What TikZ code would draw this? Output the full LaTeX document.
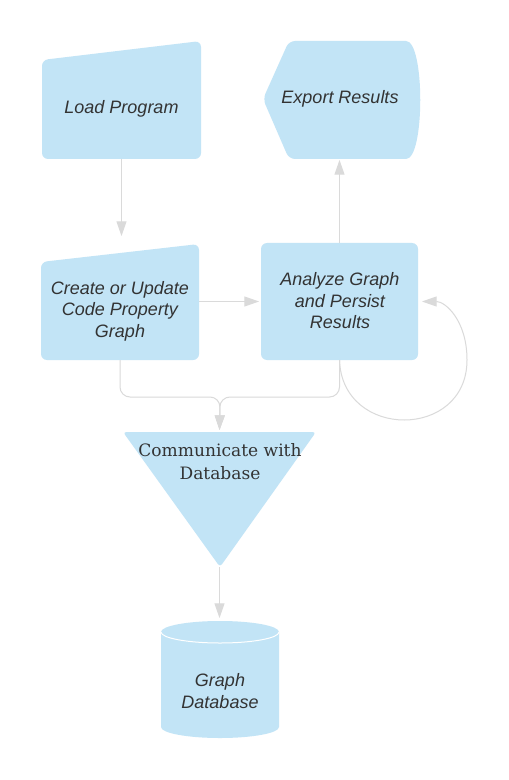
\documentclass[tikz,border=0pt]{standalone}
\usepackage{fontspec}
\setmainfont{Liberation Sans}
\newfontfamily\slabfont{DejaVu Serif}
\usetikzlibrary{arrows.meta}
\definecolor{boxblue}{RGB}{194,228,246}
\definecolor{txtgray}{RGB}{51,51,51}
\definecolor{linegray}{RGB}{218,218,218}
\tikzset{
  shapefill/.style={fill=boxblue, draw=none, rounded corners=4.5pt},
  anchorbox/.style={draw=none, fill=none, inner sep=0pt, outer sep=0pt, rectangle},
  lbl/.style={font=\itshape\fontsize{13.5}{16.1}\selectfont, text=txtgray, align=center, inner sep=0pt},
  slablbl/.style={font=\slabfont\fontsize{12.8}{17.25}\selectfont, text=txtgray, align=center, inner sep=0pt},
  conn/.style={draw=linegray, line width=0.75pt, -{Triangle[length=11pt,width=7.5pt,fill=linegray]}},
  loopconn/.style={draw=linegray, line width=0.75pt, -{Triangle[length=11pt,width=7.5pt,fill=linegray]}},
}
\begin{document}
\begin{tikzpicture}[x=0.75pt,y=-0.75pt]
\useasboundingbox[fill=white] (0,0) rectangle (508,780);

% ---- shape fills ----
\fill[shapefill] (42,60) -- (201,41) -- (201,159) -- (42,159) -- cycle;
\fill[shapefill] (263,99) -- (289,41) -- (400,41) .. controls (425,41) and (425,159) .. (400,159) -- (289,159) -- cycle;
\fill[shapefill] (41,262) -- (199,244) -- (199,360) -- (41,360) -- cycle;
\fill[shapefill] (261,243) -- (418,243) -- (418,360) -- (261,360) -- cycle;
\fill[boxblue, rounded corners=2.5pt] (123,432) -- (316,432) -- (220,567) -- cycle;
\fill[boxblue] (161,632) -- (161,727) arc[start angle=180, end angle=0, x radius=59, y radius=11]
  -- (279,632) arc[start angle=0, end angle=-180, x radius=59, y radius=11] -- cycle;
\draw[white, line width=0.75pt] (161,632) arc[start angle=180, end angle=0, x radius=59, y radius=11];

% ---- anchor boxes ----
\node[anchorbox, minimum width=159*0.75pt, minimum height=118*0.75pt] (load) at (121.5,100) {};
\node[anchorbox, minimum width=156*0.75pt, minimum height=118*0.75pt] (export) at (341,100) {};
\node[anchorbox, minimum width=158*0.75pt, minimum height=116*0.75pt] (create) at (120,302) {};
\node[anchorbox, minimum width=157*0.75pt, minimum height=117*0.75pt] (analyze) at (339.5,301.5) {};
\node[anchorbox, minimum width=193*0.75pt, minimum height=135*0.75pt] (comm) at (219.5,499.5) {};
\node[anchorbox, minimum width=118*0.75pt, minimum height=117*0.75pt] (db) at (220,679.5) {};
\coordinate (merge) at (220,397);

% ---- texts ----
\node[lbl] (loadtext) at (121.5,109) {Load Program};
\node[lbl] (exporttext) at (340,99) {Export Results};
\node[lbl] (createtext) at (120,311) {Create or Update\\Code Property\\Graph};
\node[lbl] (analyzetext) at (340,301) {Analyze Graph\\and Persist\\Results};
\node[slablbl] (commtext) at (220,462) {Communicate with\\Database};
\node[lbl] (dbtext) at (220,691) {Graph\\Database};

% ---- connectors ----
\draw[conn, shorten >=8*0.75pt] (load.south) -- (load.south |- create.north);
\draw[conn, shorten >=2*0.75pt] (create.east |- analyze.west) -- (analyze.west);
\draw[conn, shorten >=1*0.75pt] (analyze.north) -- (analyze.north |- export.south);
\draw[conn, rounded corners=7.5pt, shorten >=2*0.75pt] (create.south) |- (merge) -- (comm.north);
\draw[conn, rounded corners=7.5pt, shorten >=2*0.75pt] (analyze.south) |- (merge) -- (comm.north);
\draw[loopconn, shorten >=4*0.75pt] (analyze.south) .. controls (342,440) and (467,440) .. (467,360)
  .. controls (467,320) and (445,301.5) .. (analyze.east);
\draw[conn, shorten >=3*0.75pt] (comm.south) -- (comm.south |- db.north);
\end{tikzpicture}
\end{document}
